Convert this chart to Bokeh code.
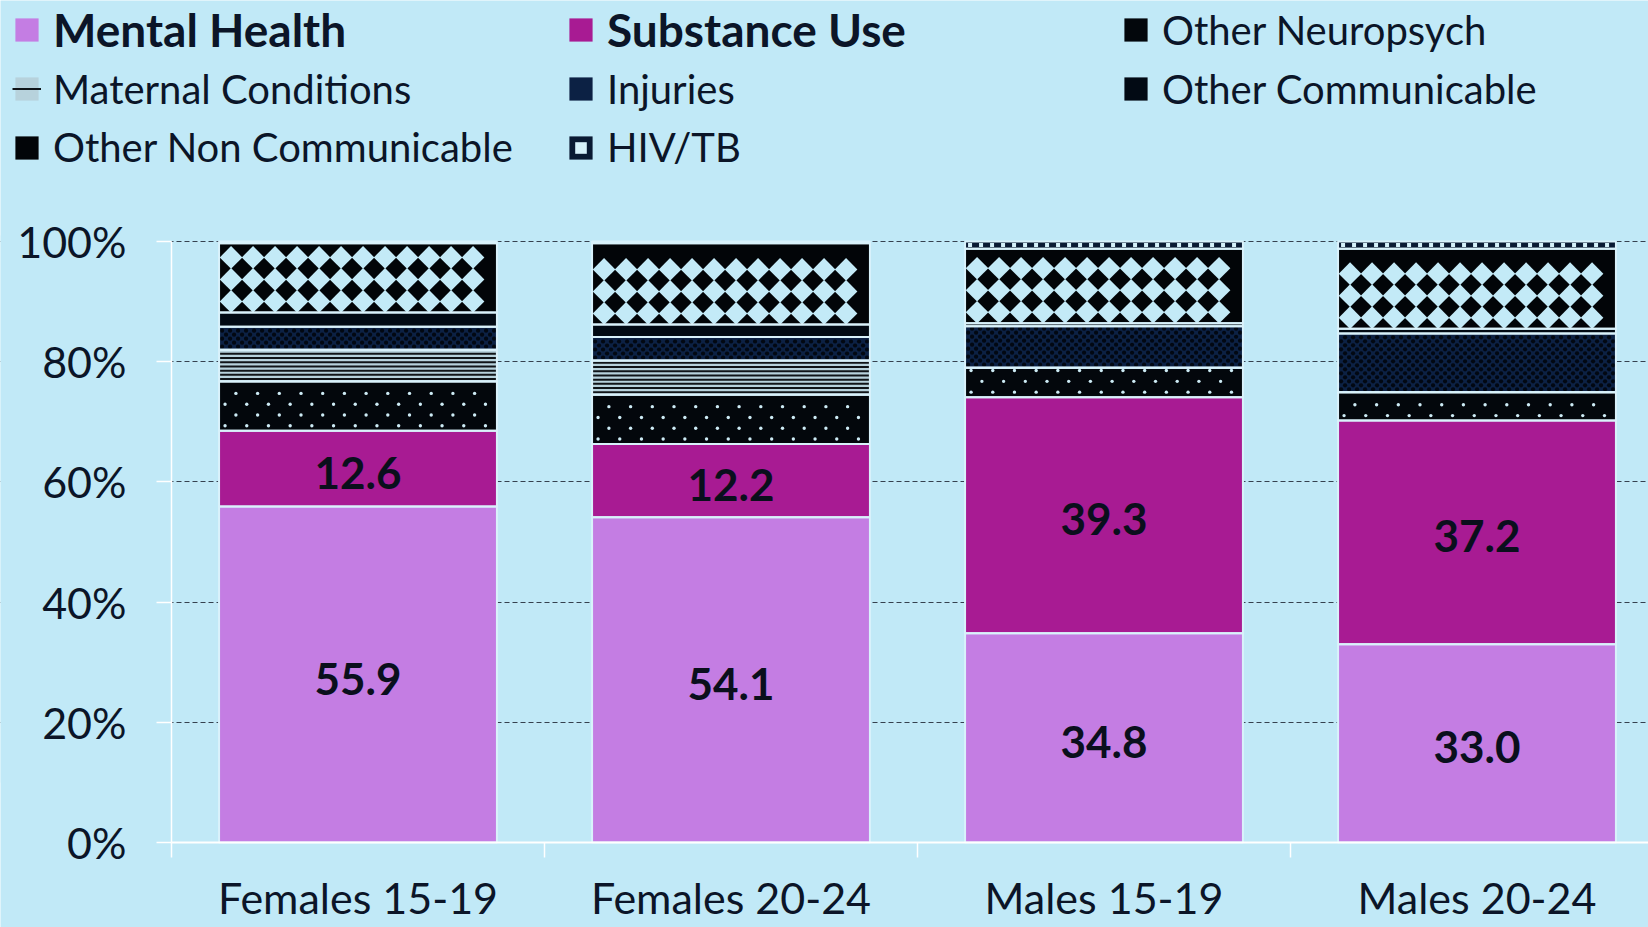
import re
import numpy as np
from bokeh.plotting import figure
from bokeh.models import (Range1d, FixedTicker, PrintfTickFormatter, Legend, LegendItem,
                          ColumnDataSource)
from bokeh.core.properties import value
from bokeh.embed import file_html
from bokeh.resources import INLINE

# ---------------- data (share of DALYs, %) ----------------
categories = ["Females 15-19", "Females 20-24", "Males 15-19", "Males 20-24"]
mental_health = [55.9, 54.1, 34.8, 33.0]
substance_use = [12.6, 12.2, 39.3, 37.2]
other_neuropsych = [8.2, 8.2, 4.9, 4.7]
maternal_conditions = [5.3, 5.7, 0.0, 0.0]
injuries = [3.8, 3.9, 6.9, 9.8]
other_communicable = [2.4, 2.1, 0.5, 0.8]
other_non_communicable = [11.5, 13.5, 12.4, 13.3]
hiv_tb = [0.3, 0.3, 1.2, 1.2]

series_names = ["Mental Health", "Substance Use", "Other Neuropsych", "Maternal Conditions",
                "Injuries", "Other Communicable", "Other Non Communicable", "HIV/TB"]
series_keys = ["mh", "su", "np", "mat", "inj", "oc", "ncd", "hiv"]
series_values = [mental_health, substance_use, other_neuropsych, maternal_conditions,
                 injuries, other_communicable, other_non_communicable, hiv_tb]
y_ticks = [0, 20, 40, 60, 80, 100]

# ---------------- geometry / style ----------------
W, H = 1648, 927
AXIS_X, Y100, Y0 = 171, 241, 842            # page px of x=0, 100 % and 0 %
CAT_PX = 373                                 # px per category slot
PX_X = CAT_PX
PX_Y = (Y0 - Y100) / 100.0
X_START = -AXIS_X / PX_X
X_END = (W - AXIS_X) / PX_X
Y_START = -(H - Y0) / PX_Y
Y_END = Y0 / PX_Y
BAR_W = 0.745

BG = "#C1E9F7"
INK = "#0B1528"
FONT = "Lato"
SEP = "#D9F2FB"
fill_colors = ["#C47DE3", "#A81B93", "#03070C", "#B7D2DC", "#0C2144", "#020A14", "#020508", "#0A1A33"]

x_pos = [i + 0.5 for i in range(len(categories))]
source = ColumnDataSource(dict(x=x_pos, **{k: v for k, v in zip(series_keys, series_values)}))

p = figure(width=W, height=H, x_range=Range1d(X_START, X_END), y_range=Range1d(Y_START, Y_END),
           output_backend="svg", toolbar_location=None,
           background_fill_color=BG, border_fill_color=BG,
           min_border_left=0, min_border_right=0, min_border_top=0, min_border_bottom=0)
p.outline_line_color = None

# grid (drawn first, masked left of the value axis)
p.xgrid.visible = False
p.ygrid.ticker = FixedTicker(ticks=y_ticks[1:])
p.ygrid.grid_line_color = "#35414F"
p.ygrid.grid_line_width = 1.2
p.ygrid.grid_line_dash = "5 3"
p.quad(left=[X_START], right=[0], bottom=[10], top=[101], fill_color=BG, line_color=None)

# stacked segments (fill only; separators are drawn on top afterwards)
bars = p.vbar_stack(series_keys, x="x", width=BAR_W, source=source,
                    fill_color=fill_colors, line_color=None)

# ---------------- texture marks inside the stacked segments ----------------
vals = np.array(series_values, dtype=float)
tops = np.cumsum(vals, axis=0)
bottoms = tops - vals


def pattern_points(si, dx, dy, ox, oy, stagger, margin):
    xs, ys = [], []
    for ci, xc in enumerate(x_pos):
        x0 = xc - BAR_W / 2
        y0, y1 = bottoms[si, ci], tops[si, ci]
        wpx = BAR_W * PX_X
        hpx = (y1 - y0) * PX_Y
        py, r = oy, 0
        while py <= hpx - margin:
            px = ox + (dx / 2 if (stagger and r % 2) else 0)
            while px <= wpx - margin:
                if px >= margin and py >= margin:
                    xs.append(x0 + px / PX_X)
                    ys.append(y0 + py / PX_Y)
                px += dx
            py += dy
            r += 1
    return xs, ys


# Other Neuropsych: light dots on black
nx, ny = pattern_points(2, 21.7, 10.8, 6, 5, True, 2.5)
np_dots = p.scatter(nx, ny, marker="circle", size=3.4, fill_color="#CDEBF5", line_color=None)

# Maternal conditions: dark horizontal stripes
sx0, sx1, sy = [], [], []
for ci, xc in enumerate(x_pos):
    y0, y1 = bottoms[3, ci], tops[3, ci]
    hpx = (y1 - y0) * PX_Y
    py = 2.5
    while py <= hpx - 2:
        sx0.append(xc - BAR_W / 2 + 1 / PX_X)
        sx1.append(xc + BAR_W / 2 - 1 / PX_X)
        sy.append(y0 + py / PX_Y)
        py += 4.2
mat_lines = p.segment(sx0, sy, sx1, sy, line_color="#101418", line_width=2)

# Injuries: dark dots on navy
ix, iy = pattern_points(4, 8, 4, 3, 3, True, 2)
inj_dots = p.scatter(ix, iy, marker="circle", size=4.2, fill_color="#020812", line_color=None)

# Other non communicable: light diamonds on black
dxs, dys = pattern_points(6, 22, 22, 12, 11, False, 9)
ncd_diamonds = p.scatter(dxs, dys, marker="square", size=16, angle=np.pi / 4,
                         fill_color="#C3EAF7", line_color=None)

# HIV/TB: small light squares on navy
hx, hy = [], []
for ci, xc in enumerate(x_pos):
    y0, y1 = bottoms[7, ci], tops[7, ci]
    if (y1 - y0) * PX_Y >= 5:
        px = 5
        while px <= BAR_W * PX_X - 4:
            hx.append(xc - BAR_W / 2 + px / PX_X)
            hy.append((y0 + y1) / 2)
            px += 11
hiv_sq = p.scatter(hx, hy, marker="square", size=4, fill_color="#D6F1FA", line_color=None)

# light separators between the segments
p.vbar_stack(series_keys, x="x", width=BAR_W, source=source,
             fill_color=None, line_color=SEP, line_width=2)

# ---------------- value labels ----------------
lab_x, lab_y, lab_t = [], [], []
for i in range(len(categories)):
    lab_x += [x_pos[i], x_pos[i]]
    lab_y += [mental_health[i] / 2, mental_health[i] + substance_use[i] / 2]
    lab_t += [f"{mental_health[i]:.1f}", f"{substance_use[i]:.1f}"]
p.text(x=lab_x, y=lab_y, text=lab_t, text_font=value(FONT), text_font_style="bold",
       text_font_size="44px", text_color="#0A0F1C", text_align="center",
       text_baseline="middle", y_offset=4)

# ---------------- axes ----------------
xa = p.xaxis[0]
xa.fixed_location = 0
xa.bounds = (0, X_END)
xa.ticker = FixedTicker(ticks=x_pos, minor_ticks=list(range(len(categories) + 1)))
xa.major_label_overrides = {x: c for x, c in zip(x_pos, categories)}
xa.axis_line_color = "white"
xa.axis_line_width = 2
xa.major_tick_out = 0
xa.major_tick_in = 0
xa.minor_tick_out = 15
xa.minor_tick_in = 0
xa.minor_tick_line_color = "white"
xa.minor_tick_line_width = 1.5
xa.major_label_text_font = FONT
xa.major_label_text_font_size = "43px"
xa.major_label_text_color = INK
xa.major_label_standoff = 14

ya = p.yaxis[0]
ya.fixed_location = 0
ya.bounds = (0, 100)
ya.ticker = FixedTicker(ticks=y_ticks)
ya.formatter = PrintfTickFormatter(format="%d%%")
ya.axis_line_color = "white"
ya.axis_line_width = 1.5
ya.major_tick_out = 15
ya.major_tick_in = 0
ya.major_tick_line_color = "white"
ya.major_tick_line_width = 1.5
ya.minor_tick_line_color = None
ya.major_label_text_font = FONT
ya.major_label_text_font_size = "43px"
ya.major_label_text_color = INK
ya.major_label_standoff = 30

# ---------------- legend: one small legend per entry, laid out in 3 columns ----------------
legend_renderers = [[b] for b in bars]
legend_renderers[3].append(mat_lines)
legend_renderers[7].append(hiv_sq)

GLYPH = 29
col_left = [15, 569, 1124]
row_center = [29.5, 88.5, 147]
for n in range(len(series_names)):
    r, c = divmod(n, 3)
    bold = n < 2
    fs = 46 if bold else 40
    h_est = fs * 1.2
    leg = Legend(items=[LegendItem(label=series_names[n], renderers=legend_renderers[n])],
                 location=(col_left[c] - 3, (H - row_center[r]) - h_est / 2),
                 orientation="vertical", padding=0, margin=0, spacing=0,
                 glyph_width=GLYPH, glyph_height=GLYPH, label_standoff=12,
                 border_line_alpha=0, background_fill_alpha=0,
                 label_text_font=FONT, label_text_font_size=f"{fs}px",
                 label_text_font_style="bold" if bold else "normal",
                 label_text_color=INK)
    p.add_layout(leg)

html = file_html(p, INLINE, title="DALYs by cause")
html = re.sub(r"<body[^>]*>", f'<body style="margin:0;overflow:hidden;background:{BG};">',
              html, count=1)
open("out.html", "w").write(html)
